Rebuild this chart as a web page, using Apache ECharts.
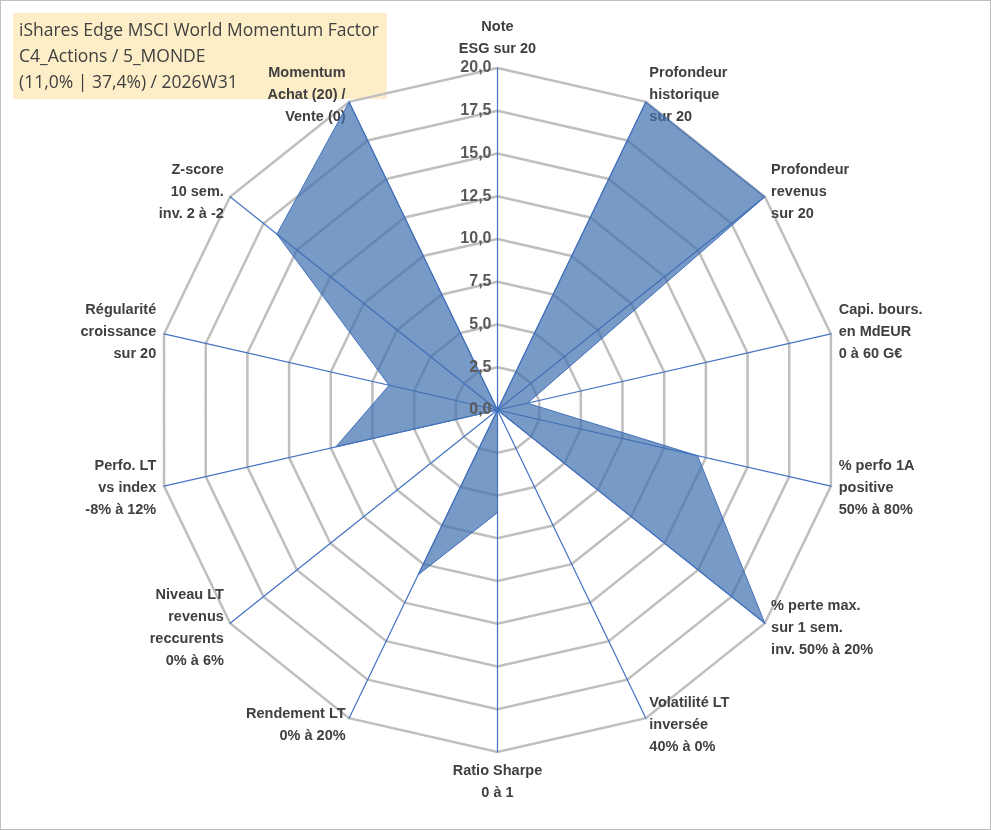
<!DOCTYPE html>
<html>
<head>
<meta charset="utf-8">
<script src="https://cdn.jsdelivr.net/npm/echarts@6/dist/echarts.min.js"></script>
<style>
  body { margin: 0; background: #fff; }
  #main { width: 989px; height: 828px; border: 1px solid #bfbfbf; }
</style>
</head>
<body>
<div id="main"></div>
<script>
// axes, clockwise from the top
var axisNames = [
    'Note\nESG sur 20',
    'Profondeur\nhistorique\nsur 20',
    'Profondeur\nrevenus\nsur 20',
    'Capi. bours.\nen MdEUR\n0 à 60 G€',
    '% perfo 1A\npositive\n50% à 80%',
    '% perte max.\nsur 1 sem.\ninv. 50% à 20%',
    'Volatilité LT\ninversée\n40% à 0%',
    'Ratio Sharpe\n0 à 1',
    'Rendement LT\n0% à 20%',
    'Niveau LT\nrevenus\nreccurents\n0% à 6%',
    'Perfo. LT\nvs index\n-8% à 12%',
    'Régularité\ncroissance\nsur 20',
    'Z-score\n10 sem.\ninv. 2 à -2',
    'Momentum\nAchat (20) /\nVente (0)'
]
var scores = [0, 20, 20, 1.8, 12, 20, 0, 6, 10.7, 0, 9.7, 6.5, 16.5, 20]
var titleLines = [
    'iShares Edge MSCI World Momentum Factor',
    'C4_Actions / 5_MONDE',
    '(11,0% | 37,4%) / 2026W31'
]
var maxScore = 20
var step = 2.5

// echarts radar runs counter-clockwise, so keep the first axis and reverse the rest
var order = [0]
for (var i = axisNames.length - 1; i > 0; i--) {
    order.push(i)
}
var indicators = order.map(function(i) {
    return { name: axisNames[i], max: maxScore, min: 0 }
})
var values = order.map(function(i) { return scores[i] })

var center = ['50.2%', '49.4%']
var radius = 342

var chart = echarts.init(document.getElementById('main'))
var option = {
    textStyle: { fontFamily: 'Liberation Sans, Arial, sans-serif' },
    title: {
        text: titleLines.join('\n'),
        left: 12, top: 12,
        z: 0,
        backgroundColor: '#fdeec8',
        padding: [5, 8, 3, 6],
        textStyle: {
            fontFamily: 'Open Sans, sans-serif',
            fontWeight: 'normal',
            fontSize: 17.5,
            lineHeight: 26,
            color: '#404040'
        }
    },
    radar: {
        center: center,
        radius: radius,
        startAngle: 90,
        shape: 'polygon',
        splitNumber: maxScore / step,
        indicator: indicators,
        z: 5,
        axisName: {
            color: '#404040',
            fontWeight: 'bold',
            fontSize: 14.5,
            lineHeight: 22
        },
        nameGap: 8,
        splitArea: { show: false },
        splitLine: { lineStyle: { color: '#bfbfbf', width: 2.5 } },
        axisLine: { lineStyle: { color: '#4472c4', width: 1.2 } }
    },
    polar: { center: center, radius: radius },
    angleAxis: {
        type: 'value', startAngle: 90, min: 0, max: 360,
        show: false
    },
    radiusAxis: {
        type: 'value', min: 0, max: maxScore, interval: step,
        axisLine: { show: false },
        axisTick: { show: false },
        splitLine: { show: false },
        z: 10,
        axisLabel: {
            color: '#595959',
            fontWeight: 'bold',
            fontSize: 16,
            margin: 6,
            formatter: function(v) { return v.toFixed(1).replace('.', ',') }
        }
    },
    series: [{
        type: 'radar',
        z: 7,
        symbol: 'none',
        lineStyle: { color: '#4472c4', width: 1 },
        areaStyle: { color: '#3f6fae', opacity: 0.7 },
        data: [{ value: values }]
    }]
}
chart.setOption(option)
</script>
</body>
</html>
